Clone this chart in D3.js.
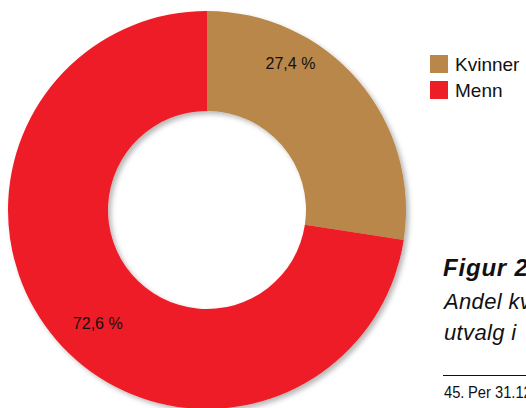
<!DOCTYPE html>
<html>
<head>
<meta charset="utf-8">
<script src="https://cdn.jsdelivr.net/npm/d3@7"></script>
<style>
  html, body { margin: 0; padding: 0; background: #fff; overflow: hidden; }
  svg { display: block; }
</style>
</head>
<body>
<svg id="chart" width="526" height="408"></svg>
<script>
// Share of women and men
const categories = ["Kvinner", "Menn"];
const shares = [27.4, 72.6];
const valueLabels = ["27,4 %", "72,6 %"];
const colors = ["#b9874a", "#ed1e26"];

const captionTitle = "Figur 2";
const captionLines = ["Andel kvinner", "utvalg i"];
const footnoteNumber = "45.";
const footnoteText = "Per 31.12.";

const svg = d3.select("#chart");
const W = 526, H = 408;

// soft shadow under the ring
const defs = svg.append("defs");
const f = defs.append("filter").attr("id", "shadow")
  .attr("x", "-10%").attr("y", "-10%").attr("width", "120%").attr("height", "120%");
f.append("feDropShadow")
  .attr("dx", 3).attr("dy", 3).attr("stdDeviation", 2.5)
  .attr("flood-color", "#000").attr("flood-opacity", 0.28);

const cx = 207, cy = 210;
const outerR = 199, innerR = 99;

const pie = d3.pie().sort(null).value(d => d)(shares);
const arc = d3.arc().innerRadius(innerR).outerRadius(outerR);

const g = svg.append("g").attr("transform", `translate(${cx},${cy})`);

g.append("g").attr("filter", "url(#shadow)")
  .selectAll("path")
  .data(pie)
  .join("path")
  .attr("d", arc)
  .attr("fill", (d, i) => colors[i]);

// value labels placed along each slice, shifted toward its start
const labelPos = [
  { frac: 0.30, r: 169 },
  { frac: 0.48, r: 157 }
];
g.selectAll("text.val")
  .data(pie)
  .join("text")
  .attr("class", "val")
  .attr("transform", (d, i) => {
    const a = d.startAngle + (d.endAngle - d.startAngle) * labelPos[i].frac;
    const r = labelPos[i].r;
    return `translate(${r * Math.sin(a)},${-r * Math.cos(a) + 6})`;
  })
  .attr("text-anchor", "middle")
  .attr("font-family", "Arial, Liberation Sans, sans-serif")
  .attr("font-size", 16)
  .attr("fill", "#111")
  .text((d, i) => valueLabels[i]);

// legend
const legend = svg.append("g").attr("transform", "translate(430,55)");
const item = legend.selectAll("g")
  .data(categories)
  .join("g")
  .attr("transform", (d, i) => `translate(0,${i * 26})`);
item.append("rect")
  .attr("width", 18).attr("height", 18)
  .attr("fill", (d, i) => colors[i]);
item.append("text")
  .attr("x", 25).attr("y", 15.5)
  .attr("font-family", "Arial, Liberation Sans, sans-serif")
  .attr("font-size", 19)
  .attr("fill", "#111")
  .text(d => d);

// caption block
svg.append("text")
  .attr("x", 443).attr("y", 276)
  .attr("font-family", "Arial, Liberation Sans, sans-serif")
  .attr("font-size", 24)
  .attr("letter-spacing", 0.8)
  .attr("font-weight", "bold")
  .attr("font-style", "italic")
  .attr("fill", "#111")
  .text(captionTitle);

svg.selectAll("text.cap")
  .data(captionLines)
  .join("text")
  .attr("class", "cap")
  .attr("x", 444)
  .attr("y", (d, i) => 309 + i * 31)
  .attr("font-family", "Arial, Liberation Sans, sans-serif")
  .attr("font-size", 22)
  .attr("letter-spacing", 0.35)
  .attr("font-style", "italic")
  .attr("fill", "#111")
  .text(d => d);

svg.append("line")
  .attr("x1", 443).attr("x2", W)
  .attr("y1", 375.5).attr("y2", 375.5)
  .attr("stroke", "#111").attr("stroke-width", 1);

// footnote in a slightly condensed face
const squeeze = 0.92;
const fn = svg.append("text")
  .attr("transform", `translate(444,398) scale(${squeeze},1)`)
  .attr("font-family", "Arial, Liberation Sans, sans-serif")
  .attr("font-size", 16)
  .attr("fill", "#111");
fn.append("tspan").attr("x", 0).text(footnoteNumber);
fn.append("tspan").attr("x", 24 / squeeze).text(footnoteText);
</script>
</body>
</html>
